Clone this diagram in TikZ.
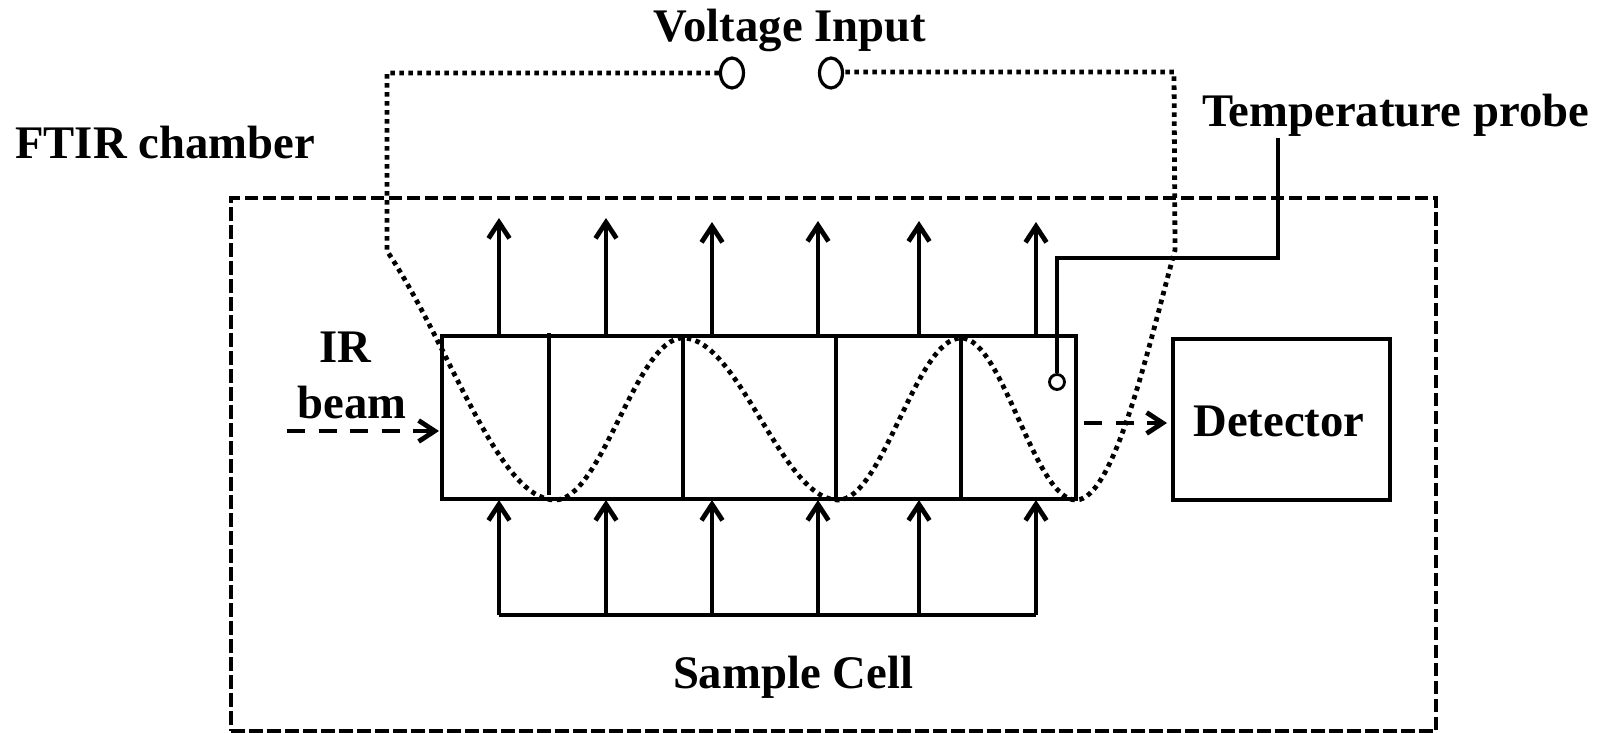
\documentclass[tikz,border=0pt]{standalone}
\usepackage{fontspec}
\setmainfont{Liberation Serif}
\usetikzlibrary{arrows.meta,shapes.geometric}
\tikzset{
  solidline/.style={line width=4.4pt,line join=miter},
  arrowline/.style={solidline,-{Straight Barb[length=16pt,width=21pt,line width=4.8pt]}},
  outerdash/.style={line width=4.2pt,dash pattern=on 13.5pt off 4.5pt,outer sep=0pt},
  beamdash/.style={line width=4.4pt,dash pattern=on 18pt off 13.5pt,-{Straight Barb[length=16pt,width=21pt,line width=4.8pt]}},
  dotline/.style={line width=4.8pt,dash pattern=on 4.5pt off 4.5pt},
  label/.style={inner sep=0pt,anchor=base,font=\fontsize{46.7}{50}\selectfont\bfseries},
  terminal/.style={draw,ellipse,line width=3.2pt,minimum width=23pt,minimum height=30pt,inner sep=0pt},
  boxshape/.style={draw,solidline,inner sep=0pt,outer sep=0pt,anchor=north west},
}
\begin{document}
\begin{tikzpicture}[x=1pt,y=-1pt]
\useasboundingbox (0,0) rectangle (1604,733);
\node[draw,outerdash,minimum width=1205pt,minimum height=533pt,inner sep=0pt,anchor=north west] (chamber) at (231,198) {};
\node[boxshape,minimum width=634pt,minimum height=163pt] (cell) at (442,336) {};
\node[boxshape,minimum width=217pt,minimum height=161pt] (detbox) at (1173,339) {};

\node[label] (voltage) at (790,42) {Voltage Input};
\node[label] (temp) at (1395.5,127) {Temperature probe};
\node[label,anchor=base west] (ftir) at (15,159) {FTIR chamber};
\node[label] (ir) at (345,362) {IR};
\node[label] (beam) at (352,418) {beam};
\node[label] (dettext) at (1279,436) {Detector};
\node[label] (sample) at (793,688) {Sample Cell};

% dividers
\foreach \n/\x/\t/\b in {1/549/333/495, 2/683/336/499, 3/836/336/499, 4/961/336/499}{
  \coordinate (dt\n) at (\x,\t);
  \coordinate (db\n) at (\x,\b);
  \draw[solidline] (dt\n) -- (db\n);
}

% arrows, bottom bus
\coordinate (busL) at (499,615);
\coordinate (busR) at (1036,615);
\draw[solidline] (busL) -- (busR);
\foreach \n/\x/\y in {1/499/218, 2/606/218, 3/712/222, 4/818/221, 5/919/221, 6/1036/222}{
  \coordinate (tb\n) at (\x,336);
  \coordinate (tt\n) at (\x,\y);
  \coordinate (bb\n) at (\x,615);
  \coordinate (bt\n) at (\x,500);
  \draw[arrowline] (tb\n) -- (tt\n);
  \draw[arrowline] (bb\n) -- (bt\n);
}

% beam arrows
\coordinate (inA) at (287,431);
\coordinate (inB) at (439,431);
\draw[beamdash] (inA) -- (inB);
\coordinate (outA) at (1084,423);
\coordinate (outB) at (1167,423);
\draw[beamdash] (outA) -- (outB);

% temperature probe
\node[draw,circle,line width=2.8pt,minimum size=15pt,inner sep=0pt] (tip) at (1057,382) {};
\coordinate (pA) at (1278,138);
\coordinate (pB) at (1278,258);
\coordinate (pC) at (1057,258);
\draw[solidline] (pA) -- (pB) -- (pC) -- (tip.north);

% voltage wiring
\node[terminal] (t1) at (732,73) {};
\node[terminal] (t2) at (831,73) {};
\coordinate (lTop) at (387,72);
\coordinate (lLow) at (387,251);
\coordinate (rTop) at (1174,72);
\coordinate (rLow) at (1175,250);
\coordinate (s1) at (555,500);
\coordinate (s2) at (683,338);
\coordinate (s3) at (838,500);
\coordinate (s4) at (961,338);
\coordinate (s5) at (1076,500);
\draw[dotline] (t1.west) -- (t1.west -| lTop) -- (lLow)
  .. controls (450,345) and (498,500) .. (s1)
  .. controls (602,500) and (636,338) .. (s2)
  .. controls (739,338) and (782,500) .. (s3)
  .. controls (883,500) and (916,338) .. (s4)
  .. controls (1003,338) and (1034,500) .. (s5)
  .. controls (1115,500) and (1150,340) .. (rLow)
  -- (rTop) -- (rTop -| t2.east) -- (t2.east);
\end{tikzpicture}
\end{document}
